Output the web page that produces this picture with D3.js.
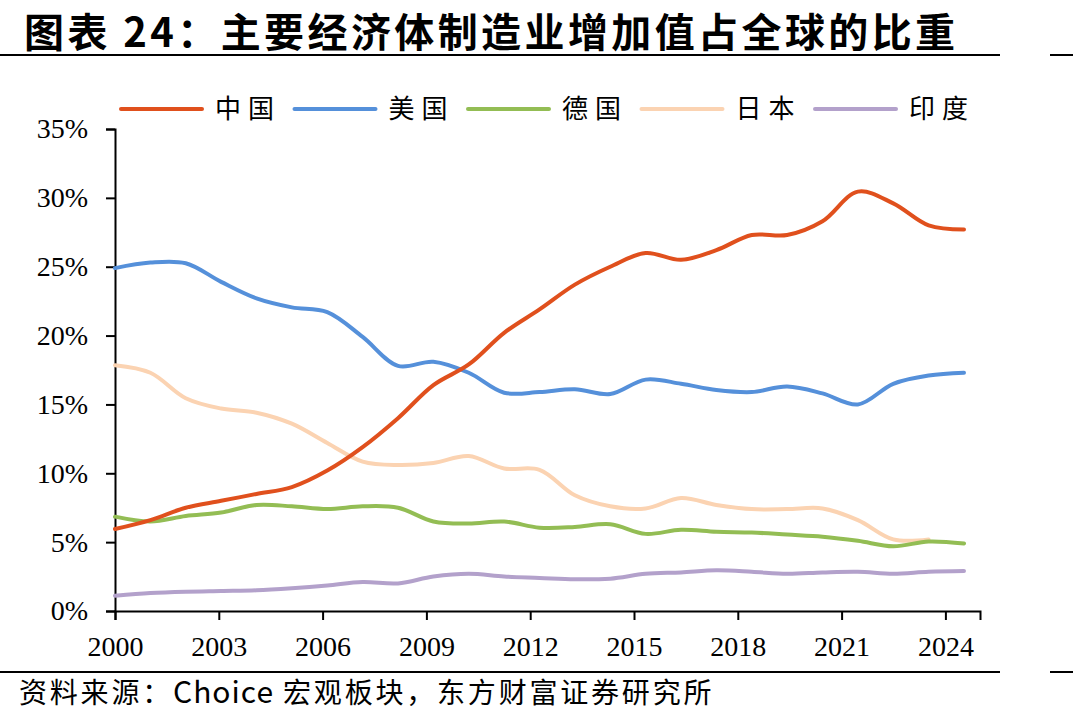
<!DOCTYPE html>
<html>
<head>
<meta charset="utf-8">
<script src="https://cdn.jsdelivr.net/npm/d3@7/dist/d3.min.js"></script>
<style>
  body { margin: 0; background: #fff; }
  svg { display: block; }
  .ylab, .xlab { font-family: "Liberation Serif", "Times New Roman", serif; font-size: 28px; fill: #000; }
  .leg { font-family: "Noto Sans CJK SC", sans-serif; font-size: 26px; letter-spacing: 7px; fill: #000; }
</style>
</head>
<body>
<div id="chart"></div>
<script>
// Data (share of global manufacturing value added, %)
var years = d3.range(2000, 2025);
var china   = [5.95, 6.6, 7.5, 8.0, 8.5, 9.0, 10.2, 11.9, 14.0, 16.4, 17.9, 20.2, 21.9, 23.7, 25.0, 26.0, 25.5, 26.2, 27.3, 27.3, 28.3, 30.45, 29.6, 28.0, 27.7];
var usa     = [24.9, 25.3, 25.25, 23.9, 22.7, 22.05, 21.7, 19.9, 17.8, 18.1, 17.3, 15.85, 15.9, 16.1, 15.75, 16.8, 16.5, 16.05, 15.9, 16.3, 15.8, 15.0, 16.5, 17.1, 17.3];
var germany = [6.85, 6.5, 6.9, 7.15, 7.7, 7.6, 7.4, 7.6, 7.5, 6.5, 6.35, 6.5, 6.05, 6.1, 6.3, 5.6, 5.9, 5.75, 5.7, 5.55, 5.4, 5.1, 4.7, 5.05, 4.9];
var japan   = [17.85, 17.3, 15.45, 14.7, 14.4, 13.6, 12.2, 10.85, 10.6, 10.75, 11.25, 10.35, 10.25, 8.4, 7.6, 7.45, 8.2, 7.7, 7.4, 7.4, 7.45, 6.6, 5.2, 5.2];
var india   = [1.1, 1.3, 1.4, 1.45, 1.5, 1.65, 1.85, 2.1, 2.0, 2.5, 2.7, 2.5, 2.4, 2.3, 2.35, 2.7, 2.8, 2.95, 2.85, 2.7, 2.8, 2.85, 2.7, 2.85, 2.9];

var seriesNames  = ["中国", "美国", "德国", "日本", "印度"];
var seriesValues = [china, usa, germany, japan, india];
var seriesColors = ["#E0501D", "#5590DA", "#93BD54", "#FBD3B2", "#B3A1CB"];

var xTicks = d3.range(2000, 2025, 3);
var yTicks = [0, 5, 10, 15, 20, 25, 30, 35];

var svgWidth = 1073;
var svgHeight = 725;
var margin = { top: 129, left: 115 };
var width = 865;
var height = 482;

var svg = d3.select("#chart")
    .append("svg")
    .attr("width", svgWidth)
    .attr("height", svgHeight);

// Title
svg.append("text")
    .attr("x", 24)
    .attr("y", 47)
    .style("font-family", "'Noto Sans CJK SC', sans-serif")
    .style("font-weight", "bold")
    .style("font-size", "40px")
    .style("letter-spacing", "3.4px")
    .text("图表 24：主要经济体制造业增加值占全球的比重");

// top & bottom rules
[55, 672].forEach(function(y) {
    svg.append("line").attr("x1", 0).attr("x2", 1000).attr("y1", y).attr("y2", y)
        .attr("stroke", "#000").attr("stroke-width", 2);
    svg.append("line").attr("x1", 1050).attr("x2", 1073).attr("y1", y).attr("y2", y)
        .attr("stroke", "#000").attr("stroke-width", 2);
});

// Source
var src = svg.append("text")
    .attr("x", 19)
    .attr("y", 703)
    .style("font-family", "'Noto Sans CJK SC', sans-serif")
    .style("font-size", "28px")
    .style("letter-spacing", "2.8px");
src.append("tspan").text("资料来源：");
src.append("tspan").style("letter-spacing", "1px").style("font-size", "30px").text("Choice");
src.append("tspan").text(" 宏观板块，东方财富证券研究所");

var chartGroup = svg.append("g").attr("transform", `translate(${margin.left}, ${margin.top})`);

// Scales
var xAxisScale = d3.scaleLinear().domain([2000, 2025]).range([0, width]);
var xPoint = d3.scalePoint().domain(years).range([0, 849]);
var yLinearScale = d3.scaleLinear().domain([0, 35]).range([height, 0]);

// Axes
var bottomAxis = d3.axisBottom(xAxisScale).tickValues(xTicks).tickFormat(d3.format("d")).tickSizeOuter(0).tickSize(9).tickPadding(16);
var leftAxis = d3.axisLeft(yLinearScale).tickValues(yTicks).tickFormat(d => d + "%").tickSizeOuter(0).tickSize(9).tickPadding(18);

var xg = chartGroup.append("g").attr("transform", `translate(0, ${height})`).call(bottomAxis);
var yg = chartGroup.append("g").call(leftAxis);
[xg, yg].forEach(function(g) {
    g.attr("font-size", null).attr("font-family", null);
    g.select(".domain").attr("stroke", "#000").attr("stroke-width", 2);
    g.selectAll(".tick line").attr("stroke", "#000").attr("stroke-width", 2);
});
xg.selectAll("text").attr("class", "xlab");
yg.selectAll("text").attr("class", "ylab");

// Lines
var line = d3.line()
    .x((d, i) => xPoint(years[i]))
    .y(d => yLinearScale(d))
    .curve(d3.curveCatmullRom.alpha(0.5));

// draw in reverse order so China sits on top
for (var s = seriesValues.length - 1; s >= 0; s--) {
    chartGroup.append("path")
        .datum(seriesValues[s])
        .attr("fill", "none")
        .attr("stroke", seriesColors[s])
        .attr("stroke-width", 4)
        .attr("stroke-linecap", "round")
        .attr("d", line);
}

// Legend
var legend = svg.append("g").attr("transform", "translate(121, 109)");
seriesNames.forEach(function(name, i) {
    var item = legend.append("g").attr("transform", `translate(${i * 173.5}, 0)`);
    item.append("line").attr("x1", 0).attr("x2", 81).attr("y1", 0).attr("y2", 0)
        .attr("stroke", seriesColors[i]).attr("stroke-width", 4).attr("stroke-linecap", "round");
    item.append("text").attr("class", "leg").attr("x", 94).attr("y", 9).text(name);
});
</script>
</body>
</html>
